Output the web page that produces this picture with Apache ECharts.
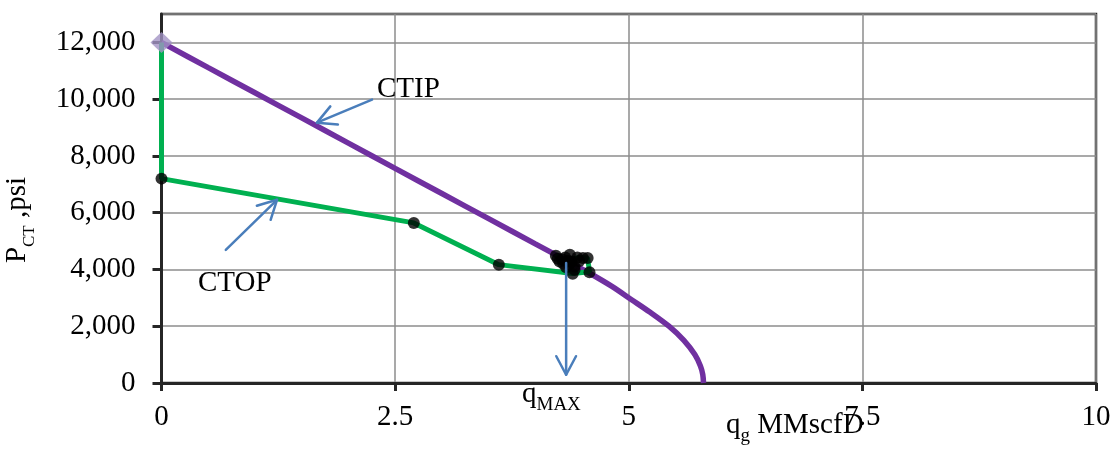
<!DOCTYPE html>
<html>
<head>
<meta charset="utf-8">
<script src="https://cdn.jsdelivr.net/npm/echarts@6/dist/echarts.min.js"></script>
<style>
  html, body { margin: 0; padding: 0; background: #ffffff; }
  #chart { width: 1115px; height: 449px; }
</style>
</head>
<body>
<div id="chart"></div>
<script>
// Axis ticks
const xTicks = [0, 2.5, 5, 7.5, 10];
const yTicks = [0, 2000, 4000, 6000, 8000, 10000, 12000];

// CTIP curve: gas rate (MMscfD) vs pressure (psi)
const ctipQ = [0, 0.5, 1, 1.5, 2, 2.5, 3, 3.5, 4, 4.3, 4.577, 4.82, 5.03, 5.225, 5.43, 5.59, 5.707, 5.767, 5.792, 5.8];
const ctipP = [12000, 11110, 10225, 9340, 8450, 7560, 6675, 5790, 4900, 4370, 3876, 3404, 2935, 2500, 2000, 1500, 1000, 600, 300, 0];

// CTOP curve
const ctopQ = [0, 0, 2.7, 3.61, 4.40, 4.58, 4.56, 4.47, 4.30, 4.22];
const ctopP = [12000, 7200, 5640, 4170, 3860, 3920, 4400, 4420, 4300, 4480];

// Operating points on CTOP
const pointQ = [0, 2.7, 3.61, 4.22, 4.24, 4.26, 4.29, 4.32, 4.30, 4.35, 4.36, 4.37, 4.39, 4.33, 4.42, 4.42, 4.45, 4.47, 4.40, 4.51, 4.56, 4.58];
const pointP = [7200, 5640, 4170, 4480, 4380, 4280, 4350, 4420, 4200, 4300, 4180, 4520, 4270, 4080, 3990, 4100, 4420, 4300, 3850, 4400, 4400, 3900];

// Shut-in point
const startQ = [0];
const startP = [12000];

// Annotation arrows in data units: [tailQ, tailP, tipQ, tipP]
const ctipArrow = [2.253, 9982, 1.664, 9172];
const ctopArrow = [0.688, 4690, 1.236, 6455];
const qmaxArrow = [4.33, 4230, 4.33, 290];

const zip = (a, b) => a.map((v, i) => [v, b[i]]);
const SERIF = '"Liberation Serif", "Times New Roman", serif';
const AXIS_DARK = '#262626';
const GRID_GRAY = '#8c8c8c';
const ARROW_BLUE = '#4a7ebb';

const chart = echarts.init(document.getElementById('chart'), null, { renderer: 'canvas' });

chart.setOption({
  animation: false,
  backgroundColor: '#ffffff',
  grid: {
    left: 161.5, right: 19, top: 14, bottom: 66,
    show: true, borderColor: AXIS_DARK, borderWidth: 2.5, backgroundColor: 'transparent'
  },
  xAxis: {
    type: 'value',
    min: xTicks[0], max: xTicks[xTicks.length - 1], interval: 2.5,
    axisLine: { show: true, lineStyle: { color: AXIS_DARK, width: 3 } },
    axisTick: { show: true, length: 8, lineStyle: { color: AXIS_DARK, width: 3 } },
    splitLine: { show: true, lineStyle: { color: GRID_GRAY, width: 1.5 } },
    axisLabel: {
      margin: 20, color: '#000', fontFamily: SERIF, fontSize: 29,
      formatter: v => String(v)
    }
  },
  yAxis: {
    type: 'value',
    min: 0, max: 13000, interval: 2000,
    axisLine: { show: true, lineStyle: { color: AXIS_DARK, width: 3 } },
    axisTick: { show: true, length: 9, lineStyle: { color: AXIS_DARK, width: 3 } },
    splitLine: { show: true, lineStyle: { color: GRID_GRAY, width: 1.5 } },
    axisLabel: {
      margin: 26, color: '#000', fontFamily: SERIF, fontSize: 29,
      showMaxLabel: false,
      formatter: v => yTicks.includes(v) ? v.toLocaleString('en-US') : ''
    }
  },
  series: [
    {
      name: 'CTIP', type: 'line', data: zip(ctipQ, ctipP),
      showSymbol: false, smooth: 0.3,
      lineStyle: { color: '#7030a0', width: 5.5 }, z: 3
    },
    {
      name: 'CTOP', type: 'line', data: zip(ctopQ, ctopP),
      showSymbol: false,
      lineStyle: { color: '#00b050', width: 5 }, z: 4
    },
    {
      name: 'Points', type: 'scatter', data: zip(pointQ, pointP),
      symbol: 'circle', symbolSize: 12,
      itemStyle: { color: '#000000' }, z: 5
    },
    {
      name: 'Start', type: 'scatter', data: zip(startQ, startP),
      symbol: 'diamond', symbolSize: [22, 21],
      itemStyle: { color: '#a394c4' }, z: 6
    }
  ]
});

// Open-headed arrow built from a data-space tail/tip pair
function arrow(spec) {
  const t = chart.convertToPixel({ gridIndex: 0 }, [spec[0], spec[1]]);
  const h = chart.convertToPixel({ gridIndex: 0 }, [spec[2], spec[3]]);
  const dx = t[0] - h[0], dy = t[1] - h[1];
  const len = Math.hypot(dx, dy);
  const ux = dx / len, uy = dy / len;
  const L = 21, th = 28 * Math.PI / 180;
  const rot = (a) => [ux * Math.cos(a) - uy * Math.sin(a), ux * Math.sin(a) + uy * Math.cos(a)];
  const a1 = rot(th), a2 = rot(-th);
  const style = { stroke: ARROW_BLUE, lineWidth: 2.5, fill: null, lineCap: 'round', lineJoin: 'round' };
  return [
    { type: 'line', shape: { x1: t[0], y1: t[1], x2: h[0], y2: h[1] }, style, z: 10 },
    { type: 'polyline', shape: { points: [[h[0] + a1[0] * L, h[1] + a1[1] * L], h, [h[0] + a2[0] * L, h[1] + a2[1] * L]] }, style, z: 10 }
  ];
}

function label(text, x, y, size) {
  return {
    type: 'text', z: 11,
    style: { text, x, y, fill: '#000', font: size + 'px ' + SERIF, align: 'left', verticalAlign: 'middle', textAlign: 'left', textVerticalAlign: 'middle' }
  };
}

function richLabel(text, rich, x, y) {
  return {
    type: 'text', z: 11,
    style: { text, rich, x, y, fill: '#000', fontFamily: SERIF, align: 'left', verticalAlign: 'bottom', textAlign: 'left', textVerticalAlign: 'bottom' }
  };
}

const base = { fontFamily: SERIF, fontSize: 29, lineHeight: 31, verticalAlign: 'bottom', color: '#000' };
const raised = Object.assign({}, base, { padding: [0, 0, 6, 0] });
const sub = (size) => ({ fontFamily: SERIF, fontSize: size, lineHeight: size + 2, verticalAlign: 'bottom', color: '#000' });

chart.setOption({
  graphic: [
    ...arrow(ctipArrow),
    ...arrow(ctopArrow),
    ...arrow(qmaxArrow),
    label('CTIP', 377, 89, 29),
    label('CTOP', 198, 283, 29),
    richLabel('{a|q}{b|MAX}', { a: raised, b: sub(19) }, 522, 415),
    richLabel('{a|q}{b|g}{c| MMscfD}', { a: raised, b: sub(19), c: raised }, 726, 446),
    {
      type: 'text', z: 11, x: 38, y: 220, rotation: Math.PI / 2,
      style: {
        text: '{a|P}{b|CT}{c| ,psi}',
        rich: { a: raised, b: sub(17), c: raised },
        fill: '#000', fontFamily: SERIF,
        align: 'center', verticalAlign: 'bottom', textAlign: 'center', textVerticalAlign: 'bottom'
      }
    }
  ]
});
</script>
</body>
</html>
